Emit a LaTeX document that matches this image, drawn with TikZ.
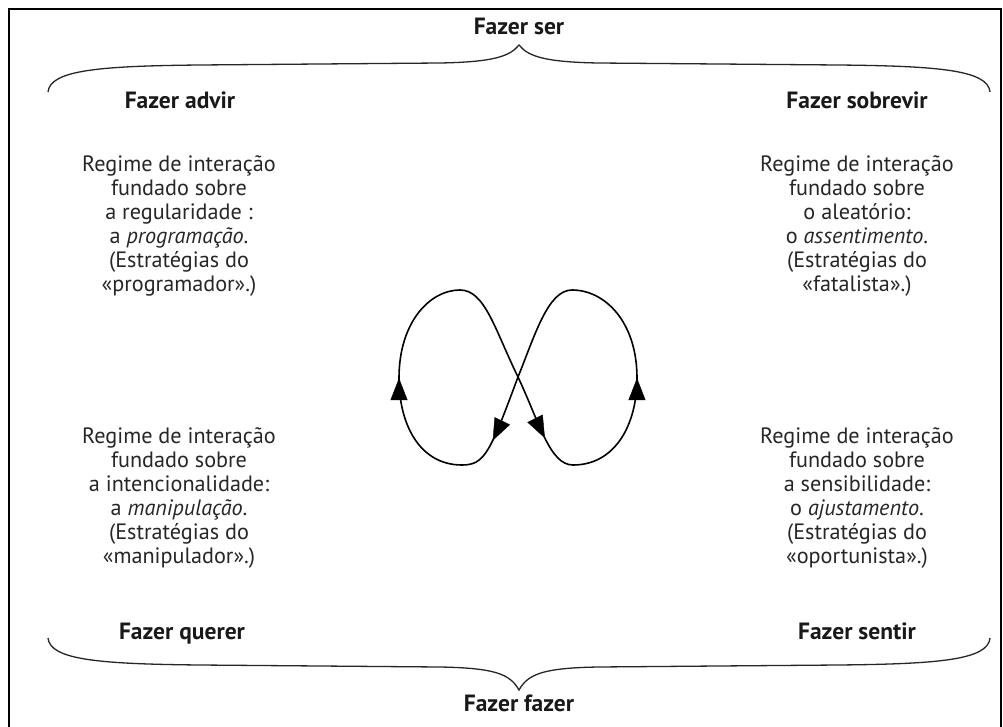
\documentclass[tikz,border=0pt]{standalone}
\usepackage{fontspec}
\setmainfont{PT Sans}
\usetikzlibrary{arrows.meta,decorations.markings}
\tikzset{
  body/.style={align=center,font=\fontsize{22.2}{24}\selectfont,inner sep=0pt,text=black!85},
  head/.style={font=\fontsize{23.5}{24}\selectfont\bfseries,inner sep=0pt,anchor=base,text=black!90},
  brace/.style={line width=1.3pt,black!85},
  loop/.style={line width=1.6pt},
  tip/.style={decoration={markings,mark=at position #1 with {\arrow{Triangle[length=22pt,width=17pt]}}},postaction=decorate},
}
\begin{document}
\begin{tikzpicture}[x=1pt,y=-1pt]
\useasboundingbox (0,0) rectangle (1003,727);
% frame
\draw[line width=2pt] (9,727) -- (9,9) -- (1001,9) -- (1001,727);
% headings
\node[head] (ser) at (519,35) {Fazer ser};
\node[head] (advir) at (180,109) {Fazer advir};
\node[head] (sobrevir) at (857,109) {Fazer sobrevir};
\node[head] (querer) at (182,639) {Fazer querer};
\node[head] (sentir) at (857,639) {Fazer sentir};
\node[head] (fazer) at (519,711) {Fazer fazer};
% braces
\draw[brace] (48,92) .. controls (50,70) and (100,66) .. (200,65) -- (440,63) .. controls (495,62) and (510,56) .. (519,45)
  .. controls (528,56) and (543,62) .. (598,63) -- (838,65) .. controls (938,66) and (988,70) .. (990,92);
\draw[brace] (48,638) .. controls (50,660) and (100,664) .. (200,665) -- (440,667) .. controls (495,668) and (510,674) .. (519,690)
  .. controls (528,674) and (543,668) .. (598,667) -- (838,665) .. controls (938,664) and (988,660) .. (990,638);
% text blocks
\node[body] (tl) at (179,226) {Regime de interação\\fundado sobre\\a regularidade :\\a \textit{programação}.\\(Estratégias do\\«programador».)};
\node[body] (tr) at (857,226) {Regime de interação\\fundado sobre\\o aleatório:\\o \textit{assentimento}.\\(Estratégias do\\«fatalista».)};
\node[body] (bl) at (179,498) {Regime de interação\\fundado sobre\\a intencionalidade:\\a \textit{manipulação}.\\(Estratégias do\\«manipulador».)};
\node[body] (br) at (857,498) {Regime de interação\\fundado sobre\\a sensibilidade:\\o \textit{ajustamento}.\\(Estratégias do\\«oportunista».)};
% figure eight
\coordinate (C) at (518,377);
\coordinate (B1) at (462,465);
\coordinate (L) at (399,378);
\coordinate (T1) at (460,290);
\coordinate (B2) at (573,465);
\coordinate (R) at (637,378);
\coordinate (T2) at (572,290);
\draw[loop] (C) .. controls (490,452) and (485,465) .. (B1)
  .. controls (420,465) and (399,425) .. (L)
  .. controls (399,322) and (430,290) .. (T1)
  .. controls (485,290) and (495,330) .. (C)
  .. controls (540,424) and (550,465) .. (B2)
  .. controls (615,465) and (637,425) .. (R)
  .. controls (637,322) and (605,290) .. (T2)
  .. controls (548,290) and (535,335) .. (C);
\path[tip=0.62] (C) .. controls (490,452) and (485,465) .. (B1);
\path[tip=0.999] (B1) .. controls (420,465) and (399,425) .. (L);
\path[tip=0.62] (C) .. controls (540,424) and (550,465) .. (B2);
\path[tip=0.999] (B2) .. controls (615,465) and (637,425) .. (R);
\end{tikzpicture}
\end{document}
